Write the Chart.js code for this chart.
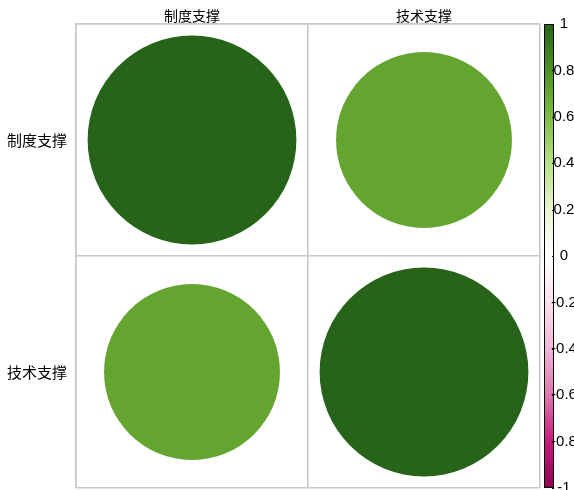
<!DOCTYPE html>
<html>
<head>
<meta charset="utf-8">
<script src="https://cdn.jsdelivr.net/npm/chart.js@4"></script>
<style>
  html, body { margin: 0; padding: 0; background: #ffffff; }
  canvas { display: block; }
</style>
</head>
<body>
<canvas id="c" width="574" height="490"></canvas>
<script>
// Variables and their correlation matrix, one row per variable
const variables = ['制度支撑', '技术支撑'];
const corrInstitutional = [1.00, 0.71];
const corrTechnical = [0.71, 1.00];
const corrRows = [corrInstitutional, corrTechnical];

// Colour legend ticks
const legendTicks = [1, 0.8, 0.6, 0.4, 0.2, 0, -0.2, -0.4, -0.6, -0.8, -1];

// PiYG diverging palette, from -1 to 1
const paletteStops = ['#8E0152', '#C51B7D', '#DE77AE', '#F1B6DA', '#FDE0EF', '#FFFFFF',
                      '#E6F5D0', '#B8E186', '#7FBC41', '#4D9221', '#276419'];

function hexToRgb(h) {
  return [parseInt(h.slice(1, 3), 16), parseInt(h.slice(3, 5), 16), parseInt(h.slice(5, 7), 16)];
}
function corrColor(v) {
  const pos = (v + 1) / 2 * (paletteStops.length - 1);
  const i = Math.min(Math.floor(pos), paletteStops.length - 2);
  const t = pos - i;
  const a = hexToRgb(paletteStops[i]), b = hexToRgb(paletteStops[i + 1]);
  const c = a.map((x, k) => Math.round(x + (b[k] - x) * t));
  return `rgb(${c[0]},${c[1]},${c[2]})`;
}

const points = [];
corrRows.forEach((row, ri) => {
  row.forEach((v, ci) => {
    points.push({ x: variables[ci], y: variables[ri], v: v });
  });
});

function pointValue(ctx) {
  return ctx && ctx.raw && typeof ctx.raw.v === 'number' ? ctx.raw.v : 0;
}

// Colour bar drawn beside the plot, positioned by the 'cb' scale
const colorBar = {
  id: 'colorBar',
  afterDraw(chart) {
    const { ctx } = chart;
    const s = chart.scales.cb;
    const x0 = chart.chartArea.right + 4;
    const w = 10;
    const yTop = s.getPixelForValue(1);
    const yBot = s.getPixelForValue(-1);
    const grad = ctx.createLinearGradient(0, yTop, 0, yBot);
    paletteStops.slice().reverse().forEach((c, i) => {
      grad.addColorStop(i / (paletteStops.length - 1), c);
    });
    ctx.save();
    ctx.fillStyle = grad;
    ctx.fillRect(x0, yTop, w, yBot - yTop);
    ctx.strokeStyle = '#000000';
    ctx.lineWidth = 1;
    ctx.strokeRect(x0 + 0.5, yTop + 0.5, w - 1, yBot - yTop - 1);
    ctx.font = '15px "Liberation Sans", Arial, sans-serif';
    ctx.fillStyle = '#000000';
    ctx.textAlign = 'center';
    ctx.textBaseline = 'middle';
    legendTicks.forEach(t => {
      const y = s.getPixelForValue(t);
      ctx.beginPath();
      ctx.moveTo(x0 + w - 2, Math.round(y) + 0.5);
      ctx.lineTo(x0 + w, Math.round(y) + 0.5);
      ctx.stroke();
      ctx.fillText(String(t), x0 + w + 10, y);
    });
    ctx.restore();
  }
};

const chart = new Chart(document.getElementById('c'), {
  type: 'bubble',
  data: {
    datasets: [{
      data: points,
      clip: false,
      backgroundColor: ctx => corrColor(pointValue(ctx)),
      borderColor: ctx => corrColor(pointValue(ctx)),
      borderWidth: 0,
      hoverRadius: 0
    }]
  },
  options: {
    responsive: false,
    animation: false,
    events: [],
    layout: { autoPadding: false, padding: { left: 0, right: 0, top: 0, bottom: 2 } },
    plugins: { legend: { display: false }, tooltip: { enabled: false } },
    scales: {
      x: {
        type: 'category',
        labels: variables,
        position: 'top',
        offset: true,
        grid: { offset: true, color: '#c8c8c8', lineWidth: 1.5, drawTicks: false },
        border: { display: true, color: '#c8c8c8', width: 1.5 },
        ticks: { color: '#000000', padding: 0, maxRotation: 0,
                 font: { family: '"Noto Sans CJK SC", sans-serif', size: 14 } },
        afterFit: s => { s.height = 24; s.paddingLeft = 0; s.paddingRight = 0; }
      },
      y: {
        type: 'category',
        labels: variables,
        position: 'left',
        offset: true,
        grid: { offset: true, color: '#c8c8c8', lineWidth: 1.5, drawTicks: false },
        border: { display: true, color: '#c8c8c8', width: 1.5 },
        ticks: { color: '#000000', padding: 9,
                 font: { family: '"Noto Sans CJK SC", sans-serif', size: 15 } },
        afterFit: s => { s.width = 76; s.paddingTop = 0; s.paddingBottom = 0; }
      },
      cb: {
        type: 'linear',
        position: 'right',
        min: -1,
        max: 1,
        grid: { display: false, drawTicks: false },
        border: { display: false },
        ticks: { display: false },
        afterFit: s => { s.width = 34; s.paddingTop = 0; s.paddingBottom = 0; }
      }
    }
  },
  plugins: [colorBar]
});

// Circle area follows |r|: size each bubble from the laid-out cell width
const xs = chart.scales.x;
const cellPx = Math.abs(xs.getPixelForValue(1) - xs.getPixelForValue(0));
chart.data.datasets[0].data = points.map(p => ({
  x: p.x, y: p.y, v: p.v,
  r: 0.9 * Math.sqrt(Math.abs(p.v)) / 2 * cellPx
}));
chart.update();
</script>
</body>
</html>
